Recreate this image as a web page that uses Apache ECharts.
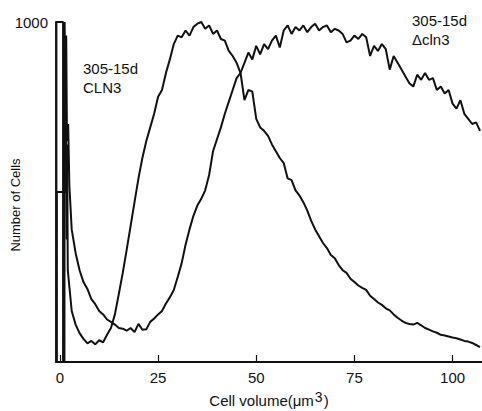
<!DOCTYPE html>
<html><head><meta charset="utf-8">
<script src="https://cdn.jsdelivr.net/npm/echarts@6/dist/echarts.min.js"></script>
<style>html,body{margin:0;padding:0;background:#fff}#c{width:482px;height:411px}</style>
</head><body><div id="c"></div>
<script>
// x tick labels
var xTicks = [0, 25, 50, 75, 100];
var yTicks = [1000];
// debris spike (first channels), [volume, count]
var cln3Spike = [[-0.8,0],[-0.8,500],[1.4,500],[1.5,820],[1.7,360],[1.85,640],[2.0,270]];
var dclnSpike = [[-0.9,0],[-0.9,1000],[0.8,1000],[0.8,0],[1.15,0],[1.2,1000],[1.45,720],[1.6,960],[1.8,650],[2.1,700],[2.4,520]];
// volume channels (µm³) after the spike
var volume = [3,4,5,6,7,8,9,10,11,12,13,14,15,16,17,18,19,20,21,22,23,24,25,26,27,28,29,30,31,32,33,34,35,36,37,38,39,40,41,42,43,44,45,46,47,48,49,50,51,52,53,54,55,56,57,58,59,60,61,62,63,64,65,66,67,68,69,70,71,72,73,74,75,76,77,78,79,80,81,82,83,84,85,86,87,88,89,90,91,92,93,94,95,96,97,98,99,100,101,102,103,104,105,106,107];
var cln3 = [150,110,85,68,55,62,52,64,58,80,100,140,200,262,330,400,470,540,600,650,690,730,780,800,850,890,935,960,955,975,960,985,995,1000,980,990,965,975,950,945,915,900,880,850,770,800,795,715,690,680,665,640,620,600,585,540,535,505,490,470,445,415,390,370,350,335,315,305,285,270,262,245,235,225,218,212,195,185,175,168,158,152,140,130,122,115,112,110,115,108,100,95,90,86,80,78,75,72,70,66,62,60,56,50,44];
var dcln3 = [390,320,270,235,215,185,170,150,140,125,118,110,100,98,92,100,88,112,95,96,118,128,140,150,172,190,212,250,290,345,390,430,460,480,505,550,620,655,690,730,765,800,835,850,880,910,890,930,905,935,920,945,960,925,975,990,965,985,975,990,970,985,995,975,985,990,970,980,975,965,940,945,960,950,965,955,900,930,915,935,920,860,900,880,860,840,820,810,845,830,850,830,835,800,810,790,800,760,745,770,730,715,700,705,680];

function pairs(spike, ys){ var out = spike.slice(); for (var i=0;i<volume.length;i++) out.push([volume[i], ys[i]]); return out; }

var chart = echarts.init(document.getElementById('c'), null, {renderer:'svg'});
var font = 'Liberation Sans, Arial, sans-serif';
var line = {color:'#111', width:2};
chart.setOption({
  animation:false,
  backgroundColor:'#fff',
  grid:{left:56, right:0, top:22, bottom:49, containLabel:false, outerBoundsMode:'none'},
  xAxis:{type:'value', min:-1, max:107.5,
    axisLine:{lineStyle:{color:'#111', width:1.8}},
    axisTick:{inside:true, length:7, lineStyle:{color:'#111', width:1.2}, customValues:xTicks},
    axisLabel:{customValues:xTicks, color:'#111', fontSize:15, fontFamily:font, margin:8},
    splitLine:{show:false},
    name:'{a|Cell volume(\u03bcm}{s|3}{a|)}', nameLocation:'middle', nameGap:22,
    nameTextStyle:{color:'#111', fontSize:15, fontFamily:font,
      rich:{a:{fontSize:15, fontFamily:font, color:'#111'}, s:{fontSize:14, fontFamily:font, color:'#111', padding:[0,1,8,1]}}}},
  yAxis:{type:'value', min:0, max:1000,
    axisLine:{show:true, onZero:false, lineStyle:{color:'#111', width:1.8}},
    axisTick:{show:false},
    axisLabel:{customValues:yTicks, color:'#111', fontSize:15, fontFamily:font, margin:8, formatter:function(v){return String(v);}},
    splitLine:{show:false}},
  graphic:[
    {type:'text', x:15, y:205, rotation:Math.PI/2, style:{text:'Number of Cells', font:'13px '+font, fill:'#111', align:'center', verticalAlign:'middle'}},
    {type:'text', left:83, top:59, style:{text:'305-15d\nCLN3', font:'15px '+font, fill:'#111', lineHeight:19}},
    {type:'text', left:412, top:11, style:{text:'305-15d\n\u0394cln3', font:'15px '+font, fill:'#111', lineHeight:19}}
  ],
  series:[
    {name:'CLN3', type:'line', data:pairs(cln3Spike, cln3), showSymbol:false, lineStyle:line, clip:true},
    {name:'\u0394cln3', type:'line', data:pairs(dclnSpike, dcln3), showSymbol:false, lineStyle:line, clip:true}
  ]
});
</script></body></html>
